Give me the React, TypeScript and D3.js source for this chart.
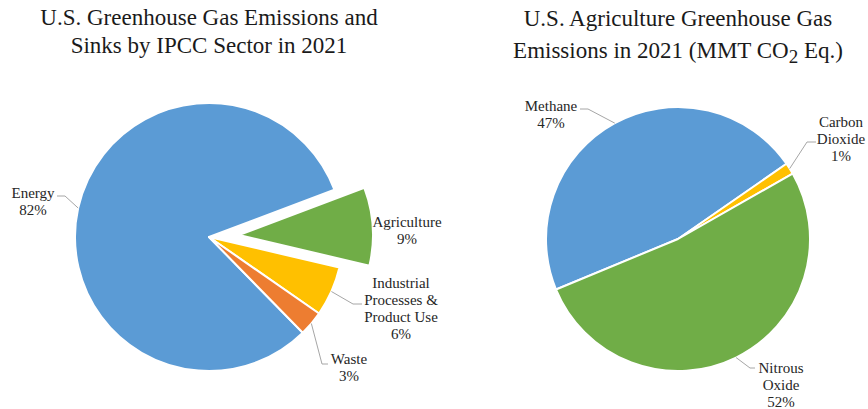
import React from "react";
import * as d3 from "d3";

// ---- Data ----
const sectorNames = ["Energy", "Agriculture", "Industrial Processes & Product Use", "Waste"];
const sectorShares = [81.6, 9.4, 6.0, 3.0];
const sectorColors = ["#5B9BD5", "#70AD47", "#FFC000", "#ED7D31"];

const gasNames = ["Methane", "Carbon Dioxide", "Nitrous Oxide"];
const gasShares = [46.6, 1.4, 52.0];
const gasColors = ["#5B9BD5", "#FFC000", "#70AD47"];

const leftTitle = ["U.S. Greenhouse Gas Emissions and", "Sinks by IPCC Sector in 2021"];
const rightTitle1 = "U.S. Agriculture Greenhouse Gas";

// ---- Layout ----
const W = 868;
const H = 409;
const deg = Math.PI / 180;

const left = { cx: 209, cy: 237, r: 134, start: 135.6, explode: [0, 30, 0, 0] };
const right = { cx: 678, cy: 239, r: 132, start: 247.5 };

// label layouts: text lines (name split), text center x, first line center y, leader elbow & end
const leftLabels = [
  { lines: ["Energy"], x: 33, y: 193, elbow: [65, 196], end: [57, 196] },
  { lines: ["Agriculture"], x: 407, y: 222, elbow: null, end: null },
  { lines: ["Industrial", "Processes &", "Product Use"], x: 401, y: 283, elbow: [353, 304], end: [362, 304] },
  { lines: ["Waste"], x: 349, y: 359, elbow: [322, 364], end: [328, 364] },
];
const rightLabels = [
  { lines: ["Methane"], x: 551, y: 106, elbow: [588, 109], end: [580, 109] },
  { lines: ["Carbon", "Dioxide"], x: 841, y: 122, elbow: [807, 142], end: [816, 142] },
  { lines: ["Nitrous", "Oxide"], x: 781, y: 368, elbow: [750, 368], end: [755, 368] },
];

const FONT = "'Liberation Serif', 'Times New Roman', serif";
const LINE = 17;
const TEXT_COLOR = "#262626";
const LEADER = "#A6A6A6";

function PieGroup({ names, shares, colors, cfg, labels }: any) {
  const pie = d3
    .pie<number>()
    .sort(null)
    .value((d) => d)
    .startAngle(cfg.start * deg)
    .endAngle(cfg.start * deg + 2 * Math.PI);
  const arcs = pie(shares);
  const arc = d3.arc<d3.PieArcDatum<number>>().innerRadius(0).outerRadius(cfg.r);
  const edge = d3.arc<d3.PieArcDatum<number>>().innerRadius(cfg.r).outerRadius(cfg.r);

  return (
    <g>
      <g transform={`translate(${cfg.cx},${cfg.cy})`}>
        {arcs.map((a, i) => {
          const mid = (a.startAngle + a.endAngle) / 2;
          const off = cfg.explode ? cfg.explode[i] : 0;
          const dx = off * Math.sin(mid);
          const dy = -off * Math.cos(mid);
          return (
            <path
              key={names[i]}
              d={arc(a) as string}
              transform={`translate(${dx},${dy})`}
              fill={colors[i]}
              stroke="#ffffff"
              strokeWidth={2}
              strokeLinejoin="round"
            />
          );
        })}
      </g>
      {arcs.map((a, i) => {
        const lab = labels[i];
        const [px, py] = edge.centroid(a);
        const lines = [...lab.lines, `${Math.round(shares[i])}%`];
        return (
          <g key={"lab" + i}>
            {lab.elbow && (
              <polyline
                points={`${cfg.cx + px},${cfg.cy + py} ${lab.elbow[0]},${lab.elbow[1]} ${lab.end[0]},${lab.end[1]}`}
                fill="none"
                stroke={LEADER}
                strokeWidth={1}
              />
            )}
            <text
              x={lab.x}
              y={lab.y}
              textAnchor="middle"
              fontFamily={FONT}
              fontSize={15}
              fill={TEXT_COLOR}
            >
              {lines.map((t, j) => (
                <tspan key={j} x={lab.x} y={lab.y + j * LINE} dy="0.35em">
                  {t}
                </tspan>
              ))}
            </text>
          </g>
        );
      })}
    </g>
  );
}

export default function App() {
  return (
    <svg
      width={W}
      height={H}
      viewBox={`0 0 ${W} ${H}`}
      style={{ position: "absolute", left: 0, top: 0, background: "#ffffff" }}
    >
      <rect x={0} y={0} width={W} height={H} fill="#ffffff" />
      <text textAnchor="middle" fontFamily={FONT} fontSize={23} fill="#1a1a1a">
        <tspan x={209} y={25}>{leftTitle[0]}</tspan>
        <tspan x={209} y={53}>{leftTitle[1]}</tspan>
      </text>
      <text textAnchor="middle" fontFamily={FONT} fontSize={23} fill="#1a1a1a">
        <tspan x={678} y={26}>{rightTitle1}</tspan>
      </text>
      <text textAnchor="middle" fontFamily={FONT} fontSize={23} fill="#1a1a1a" x={678} y={58}>
        Emissions in 2021 (MMT CO
        <tspan fontSize={19} dy={5}>2</tspan>
        <tspan dy={-5}> Eq.)</tspan>
      </text>
      <PieGroup
        names={sectorNames}
        shares={sectorShares}
        colors={sectorColors}
        cfg={left}
        labels={leftLabels}
      />
      <PieGroup
        names={gasNames}
        shares={gasShares}
        colors={gasColors}
        cfg={right}
        labels={rightLabels}
      />
    </svg>
  );
}
